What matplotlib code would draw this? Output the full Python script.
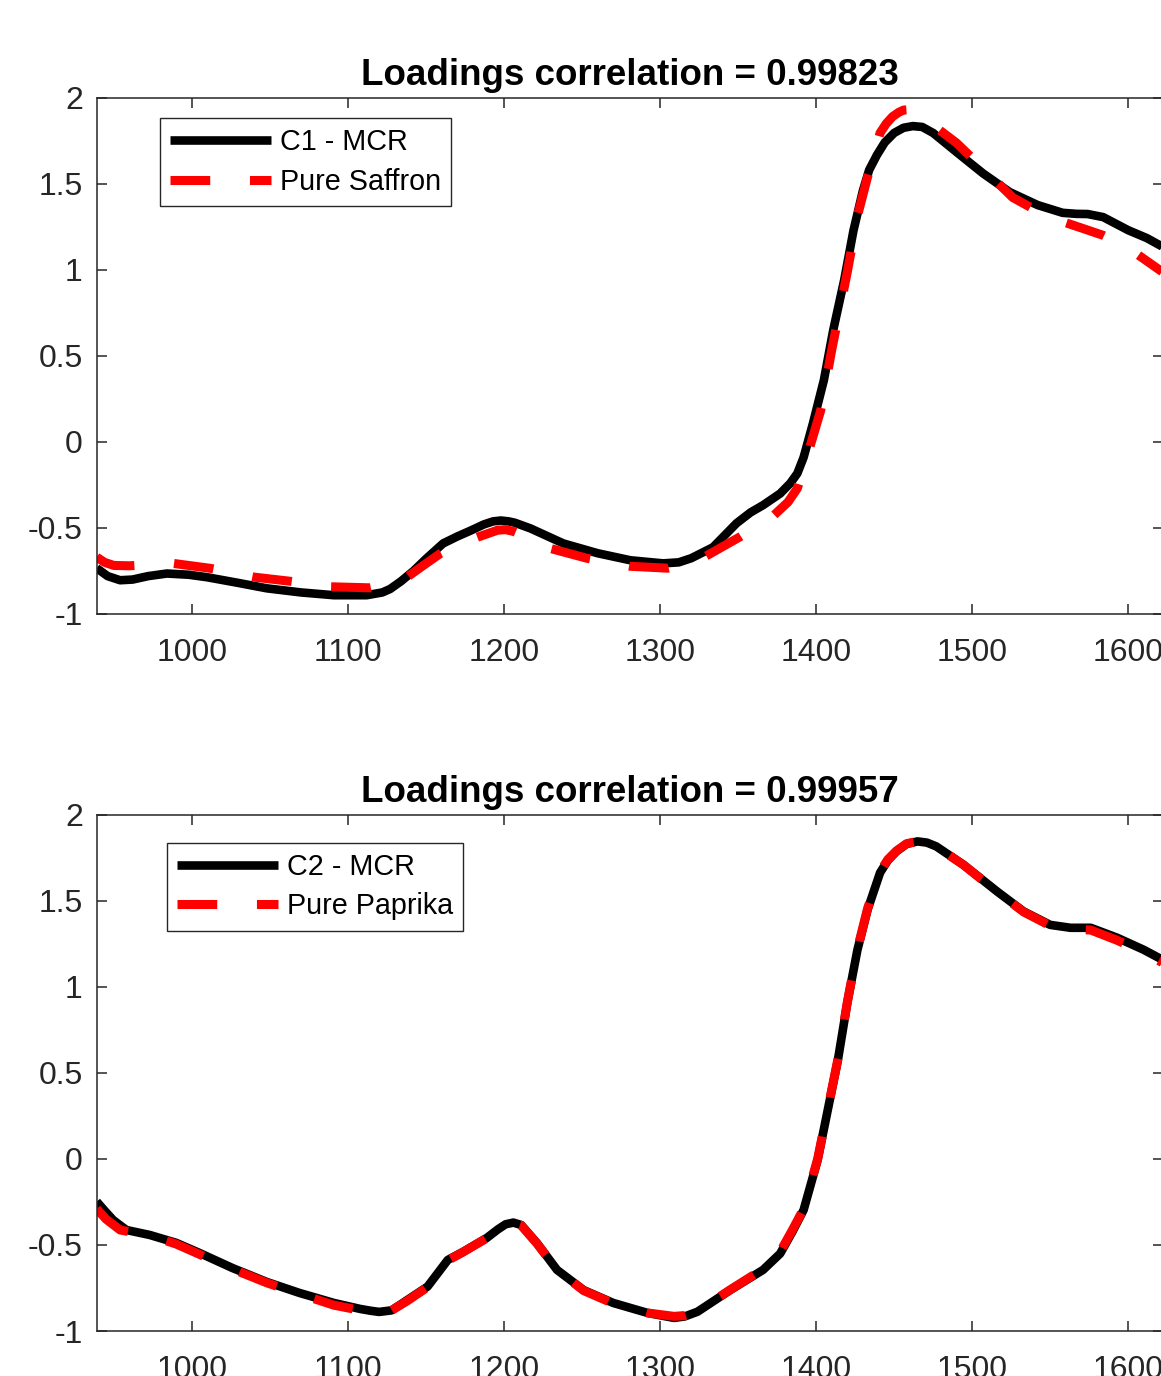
import matplotlib.pyplot as plt

plt.rcParams['font.family'] = ['Liberation Sans', 'DejaVu Sans']

# wavenumber / loading pairs
c1_x = [939, 946, 954, 962, 972, 984, 998, 1010, 1030, 1048, 1070, 1091, 1112, 1122,
        1127, 1134, 1142, 1150, 1161, 1170, 1179, 1187, 1193, 1198, 1203, 1207, 1217,
        1238, 1260, 1281, 1302, 1312, 1320, 1334, 1349, 1358, 1366, 1377, 1383.5, 1388,
        1392, 1398, 1405, 1411, 1418, 1424, 1430, 1434, 1439, 1444, 1450, 1456, 1462,
        1468, 1475, 1490, 1507, 1524, 1542, 1558, 1567, 1574, 1584, 1600, 1612, 1622]
c1_y = [-0.734, -0.78, -0.804, -0.80, -0.78, -0.765, -0.772, -0.787, -0.82, -0.851,
        -0.875, -0.891, -0.891, -0.875, -0.855, -0.81, -0.75, -0.68, -0.59, -0.55,
        -0.514, -0.48, -0.462, -0.457, -0.462, -0.47, -0.503, -0.59, -0.647, -0.688,
        -0.706, -0.70, -0.676, -0.612, -0.473, -0.41, -0.368, -0.30, -0.24, -0.183,
        -0.09, 0.108, 0.359, 0.65, 0.94, 1.23, 1.46, 1.58, 1.667, 1.74, 1.795, 1.825,
        1.835, 1.83, 1.795, 1.684, 1.56, 1.452, 1.376, 1.331, 1.325, 1.324, 1.306,
        1.23, 1.184, 1.134]

saffron_x = [939, 944, 950, 960, 975, 988, 1012, 1040, 1063, 1089, 1114, 1125, 1138,
             1148, 1159, 1170, 1183, 1196, 1201, 1206, 1218, 1230, 1253, 1281, 1305,
             1317, 1328, 1351, 1362, 1373, 1382, 1388, 1396, 1403, 1410, 1420, 1427,
             1433, 1441, 1445, 1449, 1453, 1456, 1459, 1462, 1475, 1490, 1508, 1526,
             1548, 1571, 1584, 1598, 1611, 1622]
saffron_y = [-0.67, -0.70, -0.718, -0.72, -0.712, -0.706, -0.735, -0.786, -0.81, -0.842,
             -0.848, -0.83, -0.785, -0.72, -0.65, -0.60, -0.554, -0.513, -0.51, -0.52,
             -0.565, -0.62, -0.676, -0.723, -0.734, -0.71, -0.671, -0.553, -0.49, -0.426,
             -0.35, -0.27, -0.03, 0.184, 0.533, 0.987, 1.33, 1.54, 1.795, 1.85, 1.89,
             1.915, 1.928, 1.93, 1.92, 1.84, 1.737, 1.58, 1.42, 1.31, 1.24, 1.20, 1.14,
             1.057, 0.987]

c2_x = [939, 944, 949.5, 958, 973, 990, 1005, 1026, 1048, 1069, 1091, 1108, 1115, 1120,
        1128, 1138, 1151, 1164, 1174, 1189, 1196, 1201, 1206, 1211, 1221, 1234, 1251,
        1270, 1292, 1309, 1316, 1324, 1345, 1366, 1377, 1385, 1392, 1401, 1407.5, 1414,
        1420, 1426.5, 1433, 1441, 1446, 1451.5, 1458, 1465, 1471, 1477, 1494.5, 1516,
        1533, 1550, 1563, 1576, 1593, 1610, 1622]
c2_y = [-0.248, -0.30, -0.355, -0.413, -0.442, -0.488, -0.547, -0.634, -0.715, -0.779,
        -0.837, -0.872, -0.883, -0.889, -0.88, -0.82, -0.742, -0.587, -0.539, -0.459,
        -0.41, -0.38, -0.37, -0.384, -0.488, -0.645, -0.762, -0.837, -0.895, -0.924,
        -0.915, -0.888, -0.762, -0.645, -0.55, -0.42, -0.297, -0.006, 0.285, 0.576,
        0.907, 1.215, 1.448, 1.663, 1.735, 1.787, 1.83, 1.845, 1.838, 1.816, 1.709,
        1.554, 1.438, 1.36, 1.343, 1.343, 1.285, 1.215, 1.157]

paprika_x = [939, 945, 954, 973, 990, 1005, 1026, 1048, 1069, 1091, 1108, 1120, 1128,
             1138, 1151, 1164, 1174, 1189, 1196, 1201, 1206, 1211, 1221, 1234, 1251,
             1270, 1292, 1309, 1316, 1324, 1345, 1366, 1377, 1385, 1392, 1401, 1407.5,
             1414, 1420, 1426.5, 1433, 1441, 1446, 1451.5, 1458, 1465, 1471, 1477,
             1494.5, 1516, 1533, 1550, 1563, 1576, 1593, 1610, 1622]
paprika_y = [-0.29, -0.35, -0.413, -0.445, -0.495, -0.555, -0.64, -0.72, -0.785, -0.85,
             -0.88, -0.893, -0.88, -0.825, -0.745, -0.59, -0.54, -0.46, -0.41, -0.382,
             -0.372, -0.386, -0.49, -0.645, -0.765, -0.84, -0.895, -0.915, -0.91, -0.885,
             -0.76, -0.64, -0.54, -0.41, -0.29, 0.0, 0.29, 0.58, 0.91, 1.22, 1.455,
             1.67, 1.74, 1.79, 1.832, 1.845, 1.838, 1.816, 1.708, 1.552, 1.435, 1.355,
             1.335, 1.33, 1.27, 1.2, 1.14]

panels = [
    ('Loadings correlation = 0.99823', 'C1 - MCR', 'Pure Saffron',
     c1_x, c1_y, saffron_x, saffron_y, 0.5538, (0.0594, 0.961)),
    ('Loadings correlation = 0.99957', 'C2 - MCR', 'Pure Paprika',
     c2_x, c2_y, paprika_x, paprika_y, 0.0327, (0.066, 0.946)),
]

AX_COLOR = '#262626'

fig = plt.figure(figsize=(11.61, 13.76), dpi=100)

for title, lab_mcr, lab_pure, xm, ym, xp, yp, bottom, leg_pos in panels:
    ax = fig.add_axes([0.0833, bottom, 0.918, 0.3752])
    ax.plot(xm, ym, color='black', linewidth=6.2, label=lab_mcr,
            solid_capstyle='butt', solid_joinstyle='round')
    ax.plot(xp, yp, color='red', linewidth=6.5, dashes=(4.4, 4.4), label=lab_pure,
            dash_capstyle='butt', dash_joinstyle='round')

    ax.set_xlim(939, 1622)
    ax.set_ylim(-1, 2)
    ax.set_xticks([1000, 1100, 1200, 1300, 1400, 1500, 1600])
    ax.set_yticks([-1, -0.5, 0, 0.5, 1, 1.5, 2])
    ax.set_yticklabels(['-1', '-0.5', '0', '0.5', '1', '1.5', '2'])

    for sp in ax.spines.values():
        sp.set_color(AX_COLOR)
        sp.set_linewidth(1.1)
    ax.tick_params(direction='in', length=7, width=1.1, color=AX_COLOR,
                   labelcolor=AX_COLOR, labelsize=23, top=True, right=True)
    ax.tick_params(axis='x', pad=17)
    ax.tick_params(axis='y', pad=10)

    ax.set_title(title, fontsize=26.5, fontweight='bold', pad=9.5)

    leg = ax.legend(loc='upper left', bbox_to_anchor=leg_pos, fontsize=20.7,
                    handlelength=3.5, handletextpad=0.3, borderpad=0.36,
                    labelspacing=0.4, fancybox=False, framealpha=1,
                    borderaxespad=0)
    leg.get_frame().set_edgecolor(AX_COLOR)
    leg.get_frame().set_linewidth(1.0)

fig.savefig('out.png', dpi=100)
